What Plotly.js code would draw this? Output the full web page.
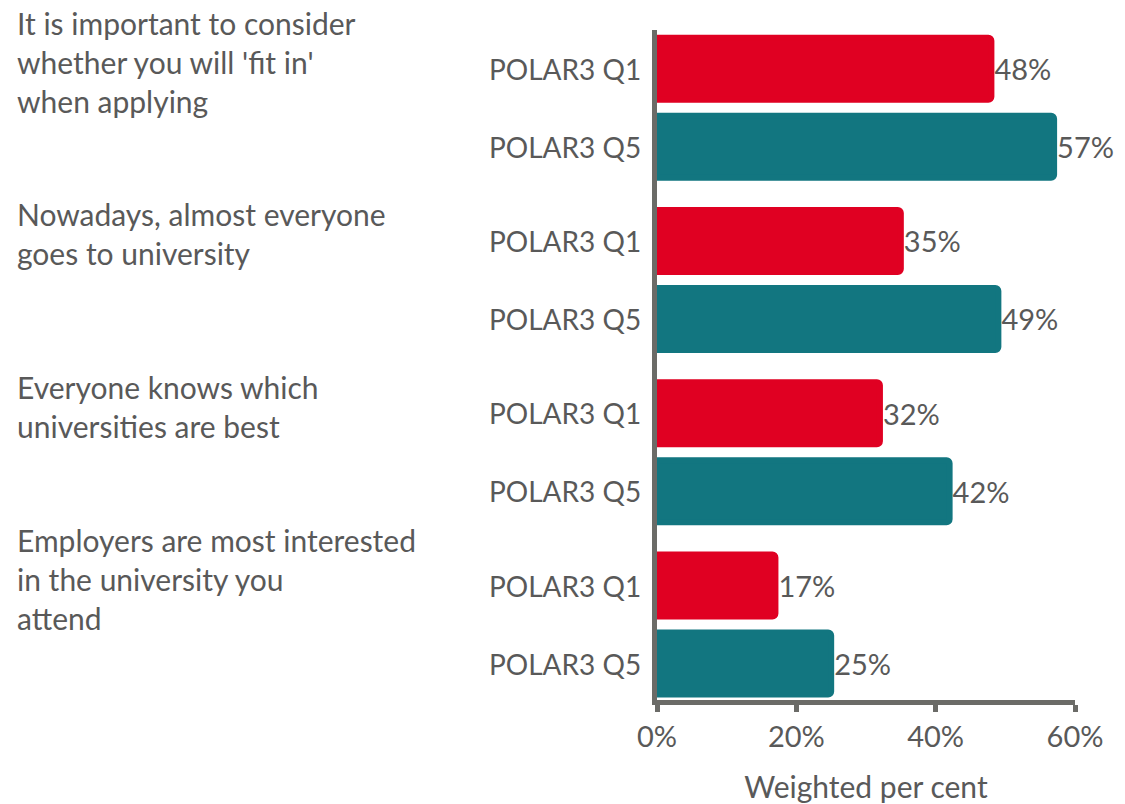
<!DOCTYPE html>
<html>
<head>
<meta charset="utf-8">
<script src="https://cdn.plot.ly/plotly-3.0.1.min.js"></script>
<style>html,body{margin:0;padding:0;background:#fff;}#chart{width:1125px;height:804px;}</style>
</head>
<body>
<div id="chart"></div>
<script>
// ---- data ----
const statements = [
  "It is important to consider<br>whether you will 'fit in'<br>when applying",
  "Nowadays, almost everyone<br>goes to university",
  "Everyone knows which<br>universities are best",
  "Employers are most interested<br>in the university you<br>attend"
];
const seriesNames = ["POLAR3 Q1", "POLAR3 Q5"];
const q1Values = [48, 35, 32, 17];
const q5Values = [57, 49, 42, 25];
const xTickVals = [0, 20, 40, 60];
const xTickText = ["0%", "20%", "40%", "60%"];
const xTitle = "Weighted per cent";

// ---- style ----
const FONT = "Lato, 'Open Sans', sans-serif";
const TEXT = "#595959";
const AXIS = "#6b6b67";
const COLORS = ["#E00022", "#127680"];
const BARGAP = 0.0946, BARGROUPGAP = 0.205;

const groupIdx = statements.map((_, i) => i);
const traces = [q1Values, q5Values].map((vals, k) => ({
  type: "bar",
  orientation: "h",
  name: seriesNames[k],
  x: vals,
  y: groupIdx,
  marker: {color: COLORS[k], cornerradius: 3, line: {color: COLORS[k], width: 6}},
  text: vals.map(v => v + "%"),
  textposition: "outside",
  textfont: {family: FONT, size: 29, color: TEXT},
  cliponaxis: false,
  hoverinfo: "skip"
}));

const off = (1 - BARGAP) / 4;
const annotations = [];
statements.forEach((s, i) => {
  annotations.push({
    text: s, xref: "paper", yref: "y", x: (15 - 657) / 418, y: i - 0.267,
    xanchor: "left", yanchor: "middle", align: "left", showarrow: false,
    font: {family: FONT, size: 30, color: TEXT}
  });
  seriesNames.forEach((n, k) => {
    annotations.push({
      text: n, xref: "paper", yref: "y", x: (643 - 657) / 418, y: i + (k === 0 ? -off : off),
      xanchor: "right", yanchor: "middle", showarrow: false,
      font: {family: FONT, size: 28, color: TEXT}
    });
  });
});

const layout = {
  width: 1125, height: 804,
  margin: {l: 657, r: 50, t: 30, b: 104},
  paper_bgcolor: "#fff", plot_bgcolor: "#fff",
  barmode: "group", bargap: BARGAP, bargroupgap: BARGROUPGAP,
  showlegend: false,
  font: {family: FONT, color: TEXT},
  xaxis: {
    range: [0, 60], tickvals: xTickVals, ticktext: xTickText,
    showgrid: false, zeroline: false,
    showline: true, linecolor: AXIS, linewidth: 5,
    ticks: "outside", ticklen: 7, tickwidth: 5, tickcolor: AXIS,
    tickfont: {family: FONT, size: 29, color: TEXT},
    title: {text: xTitle, font: {family: FONT, size: 30, color: TEXT}, standoff: 27},
    fixedrange: true
  },
  yaxis: {
    range: [3.438, -0.451], showticklabels: false, ticks: "",
    showgrid: false, zeroline: false,
    showline: true, linecolor: AXIS, linewidth: 5,
    fixedrange: true
  },
  annotations: annotations
};

Plotly.newPlot("chart", traces, layout, {displayModeBar: false, staticPlot: true});
</script>
</body>
</html>
